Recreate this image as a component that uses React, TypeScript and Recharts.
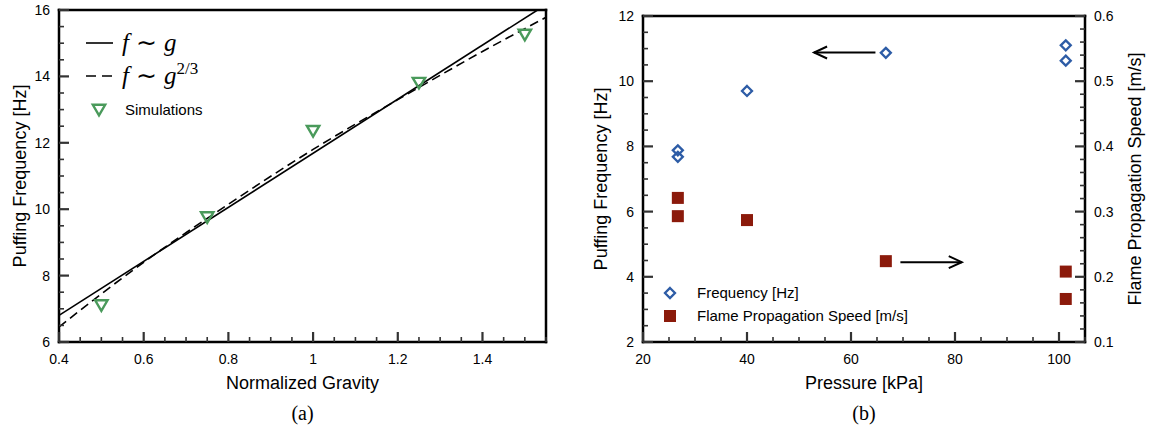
import React from 'react';
import { ComposedChart, XAxis, YAxis, Line, Scatter, ReferenceLine, Legend } from 'recharts';

const SANS = "'Liberation Sans', Arial, Helvetica, sans-serif";
const SERIF = "'Liberation Serif', 'Times New Roman', serif";
const INK = '#000';
const TICK = '#333';
const GREEN = '#4a9a5b';
const BLUE = '#2d5ca6';
const MAROON = '#8b1a0b';

// (a) puffing frequency vs normalized gravity
const gravityDomain = [0.4, 1.55];
const freqDomainA = [6, 16];
const gravityMajor = [0.4, 0.6, 0.8, 1, 1.2, 1.4];
const freqMajorA = [6, 8, 10, 12, 14, 16];
const simGravity = [0.5, 0.75, 1, 1.25, 1.5];
const simFreq = [7.1, 9.75, 12.35, 13.8, 15.25];
const linGravity = [0.4, 1.53];
const linFreq = [6.8, 16];
const powGravity = [0.4, 0.5, 0.6, 0.8, 1, 1.2, 1.4, 1.55];
const powFreq = [6.45, 7.45, 8.4, 10.15, 11.8, 13.3, 14.75, 15.78];

// (b) frequency and flame speed vs pressure
const pressureDomain = [20, 105];
const freqDomainB = [2, 12];
const speedDomain = [0.1, 0.6];
const pressureMajor = [20, 40, 60, 80, 100];
const freqMajorB = [2, 4, 6, 8, 10, 12];
const speedMajor = [0.1, 0.2, 0.3, 0.4, 0.5, 0.6];
const freqPressure = [26.7, 26.7, 40, 66.7, 101.3, 101.3];
const freqHz = [7.68, 7.88, 9.7, 10.87, 10.63, 11.1];
const speedPressure = [26.7, 26.7, 40, 66.7, 101.3, 101.3];
const speedMs = [0.321, 0.293, 0.287, 0.224, 0.208, 0.166];
const arrowToFreq = { kPa: [64.7, 52.9], hz: 10.88 };
const arrowToSpeed = { kPa: [69.5, 81.3], hz: 4.45 };

const simData = simGravity.map((g, i) => ({ g, f: simFreq[i] }));
const linData = linGravity.map((g, i) => ({ g, f: linFreq[i] }));
const powData = powGravity.map((g, i) => ({ g, f: powFreq[i] }));
const freqData = freqPressure.map((kPa, i) => ({ kPa, hz: freqHz[i] }));
const speedData = speedPressure.map((kPa, i) => ({ kPa, ms: speedMs[i] }));

const steps = (lo: number, hi: number, step: number) => {
  const n = Math.round((hi - lo) / step);
  return Array.from({ length: n + 1 }, (_, i) => +(lo + i * step).toFixed(4));
};

const frame = { stroke: INK, strokeWidth: 2.5, strokeLinecap: 'square' as const };
const noTick = () => <g />;

// inward ticks: long for majors (with label), short for minors
function makeTick(side: 'bottom' | 'left' | 'right', majors: number[]) {
  return function Tick(props: any) {
    const { x, y, payload } = props;
    const v = payload.value as number;
    const big = majors.some((m) => Math.abs(m - v) < 1e-6);
    const len = big ? 10 : 5;
    const w = big ? 2.2 : 1.6;
    const text = String(+v.toFixed(2));
    if (side === 'bottom') {
      return (
        <g>
          <rect x={x - w / 2} y={y - len} width={w} height={len} fill={TICK} />
          {big && (
            <text x={x} y={y + 22} textAnchor="middle" fontFamily={SANS} fontSize={14} fill={INK}>{text}</text>
          )}
        </g>
      );
    }
    const left = side === 'left';
    return (
      <g>
        <rect x={left ? x : x - len} y={y - w / 2} width={len} height={w} fill={TICK} />
        {big && (
          <text x={left ? x - 9 : x + 9} y={y + 5} textAnchor={left ? 'end' : 'start'} fontFamily={SANS} fontSize={14} fill={INK}>{text}</text>
        )}
      </g>
    );
  };
}

const xTitle = (title: string, tag: string) => (p: any) => {
  const vb = p.viewBox;
  const cx = vb.x + vb.width / 2;
  return (
    <g>
      <text x={cx} y={vb.y + 47} textAnchor="middle" fontFamily={SANS} fontSize={18} fill={INK}>{title}</text>
      <text x={cx} y={vb.y + 78} textAnchor="middle" fontFamily={SERIF} fontSize={20} fill={INK}>{tag}</text>
    </g>
  );
};

const yTitle = (title: string, side: 'left' | 'right', gap: number) => (p: any) => {
  const vb = p.viewBox;
  const x = side === 'left' ? vb.x + vb.width - gap : vb.x + gap;
  const y = vb.y + vb.height / 2;
  return (
    <text x={x} y={y} transform={`rotate(-90 ${x} ${y})`} textAnchor="middle" dominantBaseline="central" fontFamily={SANS} fontSize={18} fill={INK}>
      {title}
    </text>
  );
};

const DownTriangle = (p: any) => (
  <polygon
    points={`${p.cx - 6.2},${p.cy - 5.2} ${p.cx + 6.2},${p.cy - 5.2} ${p.cx},${p.cy + 5.4}`}
    fill="none" stroke={GREEN} strokeWidth={2.4}
  />
);
const Diamond = (p: any) => (
  <polygon
    points={`${p.cx},${p.cy - 5} ${p.cx + 5},${p.cy} ${p.cx},${p.cy + 5} ${p.cx - 5},${p.cy}`}
    fill="none" stroke={BLUE} strokeWidth={2.3}
  />
);
const Square = (p: any) => <rect x={p.cx - 6} y={p.cy - 6} width={12} height={12} fill={MAROON} />;

const Arrow = (p: any) => {
  const { x1, y1, x2, y2 } = p;
  const s = x2 > x1 ? -1 : 1;
  return (
    <g stroke={INK} strokeWidth={2} fill="none">
      <line x1={x1} y1={y1} x2={x2} y2={y2} />
      <polyline points={`${x2 + s * 13},${y2 - 6} ${x2},${y2} ${x2 + s * 13},${y2 + 6}`} />
    </g>
  );
};

const GravityKey = () => (
  <svg width={300} height={130} style={{ position: 'absolute', left: 0, top: 0, overflow: 'visible' }}>
    <line x1={86} x2={113} y1={43} y2={43} stroke={INK} strokeWidth={1.6} />
    <text x={122} y={51} fontFamily={SERIF} fontSize={25} fill={INK}>
      <tspan fontStyle="italic">f</tspan>
      <tspan dx={7}>∼</tspan>
      <tspan dx={7} fontStyle="italic">g</tspan>
    </text>
    <line x1={86} x2={113} y1={76} y2={76} stroke={INK} strokeWidth={1.6} strokeDasharray="10 6" />
    <text x={122} y={84} fontFamily={SERIF} fontSize={25} fill={INK}>
      <tspan fontStyle="italic">f</tspan>
      <tspan dx={7}>∼</tspan>
      <tspan dx={7} fontStyle="italic">g</tspan>
      <tspan fontSize={17} dy={-10}>2/3</tspan>
    </text>
    <DownTriangle cx={99} cy={110} />
    <text x={125} y={115} fontFamily={SANS} fontSize={15} fill={INK}>Simulations</text>
  </svg>
);

const PressureKey = () => (
  <svg width={400} height={330} style={{ position: 'absolute', left: 0, top: 0, overflow: 'visible' }}>
    <Diamond cx={90} cy={293} />
    <text x={117} y={298} fontFamily={SANS} fontSize={15} fill={INK}>Frequency [Hz]</text>
    <Square cx={90} cy={316} />
    <text x={117} y={321} fontFamily={SANS} fontSize={15} fill={INK}>Flame Propagation Speed [m/s]</text>
  </svg>
);

export default function App() {
  return (
    <div style={{ position: 'absolute', left: 0, top: 0, width: 1152, height: 435, background: '#fff', fontFamily: SANS }}>
      <div style={{ position: 'absolute', left: 0, top: 0 }}>
        <ComposedChart width={560} height={435} margin={{ top: 9, right: 13, bottom: 13, left: 9 }}>
          <XAxis
            type="number" dataKey="g" domain={gravityDomain} allowDataOverflow
            ticks={steps(0.4, 1.55, 0.05)} interval={0} tickSize={0} tickMargin={0}
            tickLine={false} axisLine={frame} tick={makeTick('bottom', gravityMajor)}
            height={80} label={xTitle('Normalized Gravity', '(a)')}
          />
          <XAxis
            xAxisId="top" orientation="top" type="number" dataKey="g" domain={gravityDomain} allowDataOverflow
            ticks={gravityMajor} tickLine={false} axisLine={frame} tick={noTick} height={1}
          />
          <YAxis
            type="number" dataKey="f" domain={freqDomainA} allowDataOverflow
            ticks={steps(6, 16, 0.5)} interval={0} tickSize={0} tickMargin={0}
            tickLine={false} axisLine={frame} tick={makeTick('left', freqMajorA)}
            width={50} label={yTitle('Puffing Frequency [Hz]', 'left', 39)}
          />
          <YAxis
            yAxisId="edge" orientation="right" type="number" dataKey="f" domain={freqDomainA} allowDataOverflow
            ticks={freqMajorA} tickLine={false} axisLine={frame} tick={noTick} width={1}
          />
          <Line data={linData} dataKey="f" type="linear" stroke={INK} strokeWidth={1.6} dot={false} isAnimationActive={false} />
          <Line data={powData} dataKey="f" type="monotone" stroke={INK} strokeWidth={1.6} strokeDasharray="9 5" dot={false} isAnimationActive={false} />
          <Scatter data={simData} dataKey="f" shape={DownTriangle} isAnimationActive={false} />
          <Legend layout="vertical" align="center" verticalAlign="middle" wrapperStyle={{ left: 0, top: 0, width: 300, height: 130 }} content={GravityKey} />
        </ComposedChart>
      </div>
      <div style={{ position: 'absolute', left: 580, top: 0 }}>
        <ComposedChart width={572} height={435} margin={{ top: 15, right: 7, bottom: 13, left: 13 }}>
          <XAxis
            type="number" dataKey="kPa" domain={pressureDomain} allowDataOverflow
            ticks={steps(20, 105, 5)} interval={0} tickSize={0} tickMargin={0}
            tickLine={false} axisLine={frame} tick={makeTick('bottom', pressureMajor)}
            height={80} label={xTitle('Pressure [kPa]', '(b)')}
          />
          <XAxis
            xAxisId="top" orientation="top" type="number" dataKey="kPa" domain={pressureDomain} allowDataOverflow
            ticks={pressureMajor} tickLine={false} axisLine={frame} tick={noTick} height={1}
          />
          <YAxis
            yAxisId="hz" type="number" dataKey="hz" domain={freqDomainB} allowDataOverflow
            ticks={steps(2, 12, 0.5)} interval={0} tickSize={0} tickMargin={0}
            tickLine={false} axisLine={frame} tick={makeTick('left', freqMajorB)}
            width={50} label={yTitle('Puffing Frequency [Hz]', 'left', 42)}
          />
          <YAxis
            yAxisId="ms" orientation="right" type="number" dataKey="ms" domain={speedDomain} allowDataOverflow
            ticks={steps(0.1, 0.6, 0.02)} interval={0} tickSize={0} tickMargin={0}
            tickLine={false} axisLine={frame} tick={makeTick('right', speedMajor)}
            width={60} label={yTitle('Flame Propagation Speed [m/s]', 'right', 50)}
          />
          <Scatter yAxisId="hz" data={freqData} dataKey="hz" shape={Diamond} isAnimationActive={false} />
          <Scatter yAxisId="ms" data={speedData} dataKey="ms" shape={Square} isAnimationActive={false} />
          <ReferenceLine
            yAxisId="hz" ifOverflow="visible"
            segment={[{ x: arrowToFreq.kPa[0], y: arrowToFreq.hz }, { x: arrowToFreq.kPa[1], y: arrowToFreq.hz }]}
            shape={Arrow}
          />
          <ReferenceLine
            yAxisId="hz" ifOverflow="visible"
            segment={[{ x: arrowToSpeed.kPa[0], y: arrowToSpeed.hz }, { x: arrowToSpeed.kPa[1], y: arrowToSpeed.hz }]}
            shape={Arrow}
          />
          <Legend layout="vertical" align="center" verticalAlign="middle" wrapperStyle={{ left: 0, top: 0, width: 400, height: 330 }} content={PressureKey} />
        </ComposedChart>
      </div>
    </div>
  );
}
